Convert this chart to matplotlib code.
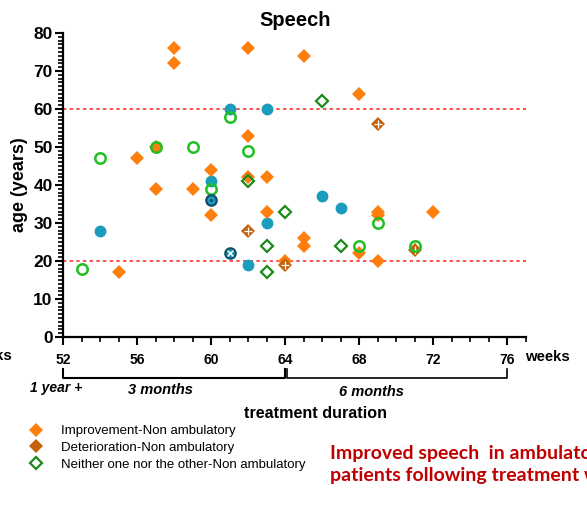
import matplotlib
matplotlib.use("Agg")
import matplotlib.pyplot as plt
from matplotlib.lines import Line2D
from matplotlib.ticker import MultipleLocator
import matplotlib.transforms as mtransforms

plt.rcParams['font.family'] = ['Liberation Sans', 'DejaVu Sans']

# ---------------- data (weeks of treatment, age in years) ----------------
impr_nonamb_x = [58, 58, 62, 65, 68, 62, 56, 57, 60, 57, 59, 62, 63, 60, 63, 55, 64, 65, 65, 69, 69, 72, 68, 69]
impr_nonamb_y = [76, 72, 76, 74, 64, 53, 47, 50, 44, 39, 39, 42, 42, 32, 33, 17, 20, 26, 24, 33, 32, 33, 22, 20]

det_nonamb_x = [62, 64, 69, 71]
det_nonamb_y = [28, 19, 56, 23]

neither_nonamb_x = [62, 64, 63, 63, 66, 67]
neither_nonamb_y = [41, 33, 24, 17, 62, 24]

impr_amb_x = [54, 60, 61, 63, 63, 62, 66, 67]
impr_amb_y = [28, 41, 60, 60, 30, 19, 37, 34]

neither_amb_x = [53, 54, 57, 59, 60, 61, 62, 68, 69, 71]
neither_amb_y = [18, 47, 50, 50, 39, 58, 49, 24, 30, 24]

other_amb_x = [60]
other_amb_y = [36]

det_amb_x = [61]
det_amb_y = [22]

ref_lines = [60, 20]
x_ticks = [52, 56, 60, 64, 68, 72, 76]
y_ticks = [0, 10, 20, 30, 40, 50, 60, 70, 80]
legend_labels = ["Improvement-Non ambulatory",
                 "Deterioration-Non ambulatory",
                 "Neither one nor the other-Non ambulatory"]

ORANGE = '#ff7f0e'
BROWN = '#c4620c'
DGREEN = '#1a8a1a'
LGREEN = '#1fc01f'
BLUE = '#1a9cbc'
NAVY = '#0f4f6a'

W, H = 587, 505
fig = plt.figure(figsize=(W / 100, H / 100), dpi=100)
L, R, T, B = 63, 526, 33, 337
ax = fig.add_axes([L / W, 1 - B / H, (R - L) / W, (B - T) / H])

ax.set_xlim(52, 77)
ax.set_ylim(0, 80)

for yv in ref_lines:
    ax.axhline(yv, color='#ff3030', lw=1.2, ls=(0, (2, 2)), zorder=1)

ax.plot(impr_amb_x, impr_amb_y, 'o', ms=7.5, color=BLUE, mec=BLUE, zorder=3, clip_on=False)
ax.plot(impr_nonamb_x, impr_nonamb_y, 'D', ms=7, color=ORANGE, mew=0, zorder=4, clip_on=False)
ax.plot(det_nonamb_x, det_nonamb_y, 'D', ms=7, color=BROWN, mew=0, zorder=5, clip_on=False)
ax.plot(det_nonamb_x, det_nonamb_y, '+', ms=6, color='white', mew=0.9, ls='none', zorder=5.5)
ax.plot(neither_nonamb_x, neither_nonamb_y, 'D', ms=6.5, mfc='none', mec=DGREEN, mew=1.6, zorder=6)
ax.plot(neither_amb_x, neither_amb_y, 'o', ms=7.5, mfc='none', mec=LGREEN, mew=1.8, zorder=7)
ax.plot(other_amb_x, other_amb_y, 'o', ms=7.5, mfc=BLUE, mec=NAVY, mew=1.6, zorder=8)
ax.plot(other_amb_x, other_amb_y, '.', ms=2.5, color=NAVY, zorder=8.5)
ax.plot(det_amb_x, det_amb_y, 'o', ms=7.5, mfc=BLUE, mec=NAVY, mew=1.6, zorder=8)
ax.plot(det_amb_x, det_amb_y, 'x', ms=4.5, color='white', mew=1.0, zorder=8.5)

# axes styling
for s in ['top', 'right']:
    ax.spines[s].set_visible(False)
for s in ['left', 'bottom']:
    ax.spines[s].set_linewidth(1.6)
ax.set_xticks(x_ticks)
ax.set_yticks(y_ticks)
ax.xaxis.set_minor_locator(MultipleLocator(1))
ax.yaxis.set_minor_locator(MultipleLocator(1))
ax.tick_params(which='major', length=5.5, width=1.5, direction='out')
ax.tick_params(which='minor', length=3.5, width=1.2, direction='out')
ax.tick_params(axis='x', labelsize=10, pad=6)
ax.tick_params(axis='y', labelsize=12.5, pad=2)
for lab in ax.get_xticklabels() + ax.get_yticklabels():
    lab.set_fontweight('bold')

ax.set_ylabel('age (years)', fontsize=13, fontweight='bold', labelpad=4)
fig.text(295 / W, 1 - 20 / H, 'Speech', ha='center', va='center', fontsize=14.5, fontweight='bold')

fig.text(525 / W, 1 - 357 / H, 'weeks', ha='left', va='center', fontsize=10.7, fontweight='bold')
fig.text(12 / W, 1 - 356 / H, 'weeks', ha='right', va='center', fontsize=10.7, fontweight='bold')

# brackets under the axis
trans = mtransforms.blended_transform_factory(ax.transData, ax.transAxes)
yb = (B - 378) / (B - T)
yt = (B - 369) / (B - T)
ax.plot([52, 52, 64, 64], [yt, yb, yb, yt], color='black', lw=1.5, transform=trans, clip_on=False)
ax.plot([64.1, 64.1, 76, 76], [yt, yb, yb, yt], color='black', lw=1.2, transform=trans, clip_on=False)

fig.text(56 / W, 1 - 388 / H, '1 year +', ha='center', va='center', fontsize=10,
         fontweight='bold', style='italic')
fig.text(160 / W, 1 - 390 / H, '3 months', ha='center', va='center', fontsize=10.5,
         fontweight='bold', style='italic')
fig.text(371 / W, 1 - 392 / H, '6 months', ha='center', va='center', fontsize=10.5,
         fontweight='bold', style='italic')
fig.text(316 / W, 1 - 413 / H, 'treatment duration', ha='center', va='center', fontsize=11.6,
         fontweight='bold')

handles = [
    Line2D([], [], ls='none', marker='D', ms=7, color=ORANGE, mew=0),
    Line2D([], [], ls='none', marker='D', ms=7, color=BROWN, mew=0),
    Line2D([], [], ls='none', marker='D', ms=6.5, mfc='none', mec=DGREEN, mew=1.6),
]
fig.legend(handles, legend_labels, loc='upper left', bbox_to_anchor=(29 / W, 1 - 425 / H),
           frameon=False, fontsize=9.5, handlelength=1.1, handletextpad=1.3,
           labelspacing=0.34, borderpad=0, borderaxespad=0)

fig.text(330 / W, 1 - 454 / H, 'Improved speech  in ambulatory', ha='left', va='center',
         fontsize=14, fontweight='bold', color='#c00000', family=['Lato', 'DejaVu Sans'])
fig.text(330 / W, 1 - 475 / H, 'patients following treatment with', ha='left', va='center',
         fontsize=14, fontweight='bold', color='#c00000', family=['Lato', 'DejaVu Sans'])

fig.savefig('out.png', dpi=100)
